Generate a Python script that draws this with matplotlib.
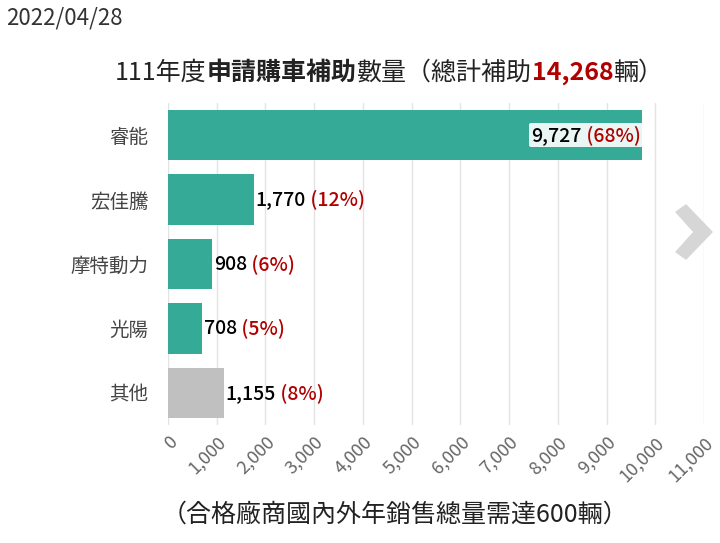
import matplotlib.pyplot as plt
from matplotlib.offsetbox import TextArea, HPacker, AnnotationBbox
from matplotlib.patches import Polygon

plt.rcParams['font.family'] = 'sans-serif'
plt.rcParams['font.sans-serif'] = ['Noto Sans CJK TC', 'Noto Sans CJK JP', 'DejaVu Sans']

brands = ['睿能', '宏佳騰', '摩特動力', '光陽', '其他']
counts = [9727, 1770, 908, 708, 1155]
shares = ['68%', '12%', '6%', '5%', '8%']
total = '14,268'
ticks = list(range(0, 11001, 1000))

fig = plt.figure(figsize=(7.2, 5.43), dpi=100)
ax = fig.add_axes([168/720, 1-425/543, (704-168)/720, (425-103)/543])
ypos = list(range(len(brands)))
colors = ['#34aa97'] * 4 + ['#c0c0c0']
ax.barh(ypos, counts, height=0.78, color=colors, zorder=2)
ax.set_ylim(4.5, -0.5)
ax.set_xlim(0, 11000)
ax.set_xticks(ticks)
ax.set_xticklabels([f'{t:,}' for t in ticks], rotation=45, ha='right', va='top',
                   rotation_mode='anchor', color='#666666', fontsize=13)
ax.set_yticks(ypos)
ax.set_yticklabels(brands, fontsize=14, color='#444444')
ax.tick_params(length=0, pad=14)
ax.tick_params(axis='x', pad=6)
ax.grid(axis='x', color='#e3e3e3', lw=1, zorder=0)
for s in ax.spines.values():
    s.set_visible(False)

for i, (c, p) in enumerate(zip(counts, shares)):
    box = HPacker(children=[
        TextArea(f'{c:,}', textprops=dict(color='black', fontsize=14, weight='medium')),
        TextArea(f' ({p})', textprops=dict(color='#b00000', fontsize=14, weight='medium'))],
        pad=0, sep=0)
    if i == 0:
        ab = AnnotationBbox(box, (c, i), xybox=(-1, 0), boxcoords='offset points',
                            box_alignment=(1, 0.5), frameon=True, pad=0.1,
                            bboxprops=dict(boxstyle='round,pad=0.15', fc='white',
                                           ec='none', alpha=0.9), zorder=5)
    else:
        ab = AnnotationBbox(box, (c, i), xybox=(1, 0), boxcoords='offset points',
                            box_alignment=(0, 0.5), frameon=False, zorder=5)
    ax.add_artist(ab)

title = HPacker(children=[
    TextArea('111年度', textprops=dict(fontsize=18, color='#222222')),
    TextArea('申請購車補助', textprops=dict(fontsize=18, color='#222222', weight='bold')),
    TextArea('數量（總計補助', textprops=dict(fontsize=18, color='#222222')),
    TextArea(total, textprops=dict(fontsize=18, color='#b00000', weight='bold')),
    TextArea('輛）', textprops=dict(fontsize=18, color='#222222'))], pad=0, sep=0)
fig.add_artist(AnnotationBbox(title, (389/720, 1-73/543), xycoords='figure fraction',
                              frameon=False, box_alignment=(0.5, 0.5)))

fig.text(6/720, 1-18/543, '2022/04/28', fontsize=16, color='#333333', va='center')
fig.text(395/720, 1-515/543, '（合格廠商國內外年銷售總量需達600輛）', fontsize=18,
         color='#222222', ha='center', va='center')

chev = Polygon([(676/720, 1-212/543), (686/720, 1-205/543), (712/720, 1-232/543),
                (686/720, 1-259/543), (676/720, 1-252/543), (694/720, 1-232/543)],
               closed=True, transform=fig.transFigure, color='#d6d6d6')
fig.add_artist(chev)

fig.savefig('out.png', dpi=100)
